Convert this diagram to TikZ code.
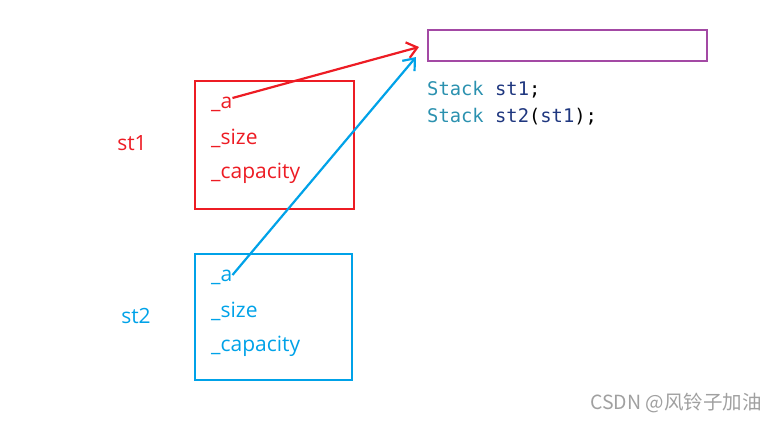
\documentclass[tikz,border=0pt]{standalone}
\usepackage{fontspec}
\setmainfont{Open Sans}
\setmonofont{DejaVu Sans Mono}
\newfontfamily\cjkfont{Noto Sans CJK SC}
\usepackage{tikz}
\usetikzlibrary{arrows.meta,positioning}
\definecolor{objred}{HTML}{ED1C24}
\definecolor{objblue}{HTML}{00A2E8}
\definecolor{objpurple}{HTML}{A349A4}
\definecolor{typeteal}{HTML}{2B91AF}
\definecolor{varnavy}{HTML}{1F377F}
\definecolor{markgray}{HTML}{A0A0A0}
\tikzset{
  membox/.style={draw,line width=2.4pt,minimum width=#1,inner sep=0pt},
  field/.style={anchor=west,inner sep=0pt,font=\fontsize{21}{21}\selectfont},
  codeline/.style={anchor=west,inner sep=0pt,font=\ttfamily\fontsize{18.8}{18.8}\selectfont},
  ptr/.style={line width=2.2pt,-{Straight Barb[length=10pt,width=16pt,line width=2.2pt]}}
}
\begin{document}
\begin{tikzpicture}[x=1pt,y=-1pt]
	\useasboundingbox (0,0) rectangle (776,421);
	% the three boxes
	\node (redbox)[membox=159pt,minimum height=128pt,objred] at (274.5,145) {};
	\node (bluebox)[membox=157pt,minimum height=126pt,objblue] at (273.5,317) {};
	\node (objbox)[membox=279pt,minimum height=31pt,objpurple] at (567.5,45.5) {};
	% st1 members
	\node (ra)[field,objred] at (211,104) {\_a};
	\node (rsize)[field,objred] at (211,138) {\_size};
	\node (rcap)[field,objred] at (211,173) {\_capacity};
	\node (st1)[field,objred,anchor=center] at (132,143) {st1};
	% st2 members
	\node (ba)[field,objblue] at (211,277) {\_a};
	\node (bsize)[field,objblue] at (211,311) {\_size};
	\node (bcap)[field,objblue] at (211,346) {\_capacity};
	\node (st2)[field,objblue,anchor=center] at (136,316) {st2};
	% code
	\node (codeA)[codeline] at (427,90) {\textcolor{typeteal}{Stack} \textcolor{varnavy}{st1};};
	\node (codeB)[codeline] at (427,117) {\textcolor{typeteal}{Stack} \textcolor{varnavy}{st2}(\textcolor{varnavy}{st1});};
	% pointers
	\coordinate (hitA) at (419,47);
	\coordinate (hitB) at (416,57);
	\draw[ptr,objred] (ra.east) ++(0,-6) -- (hitA);
	\draw[ptr,objblue] (ba.east) ++(0,-2) -- (hitB);
	% watermark
	\node (mark)[anchor=east,inner sep=0pt,markgray,font=\cjkfont\fontsize{19.5}{19.5}\selectfont] at (762,403) {CSDN @风铃子加油};
\end{tikzpicture}
\end{document}
